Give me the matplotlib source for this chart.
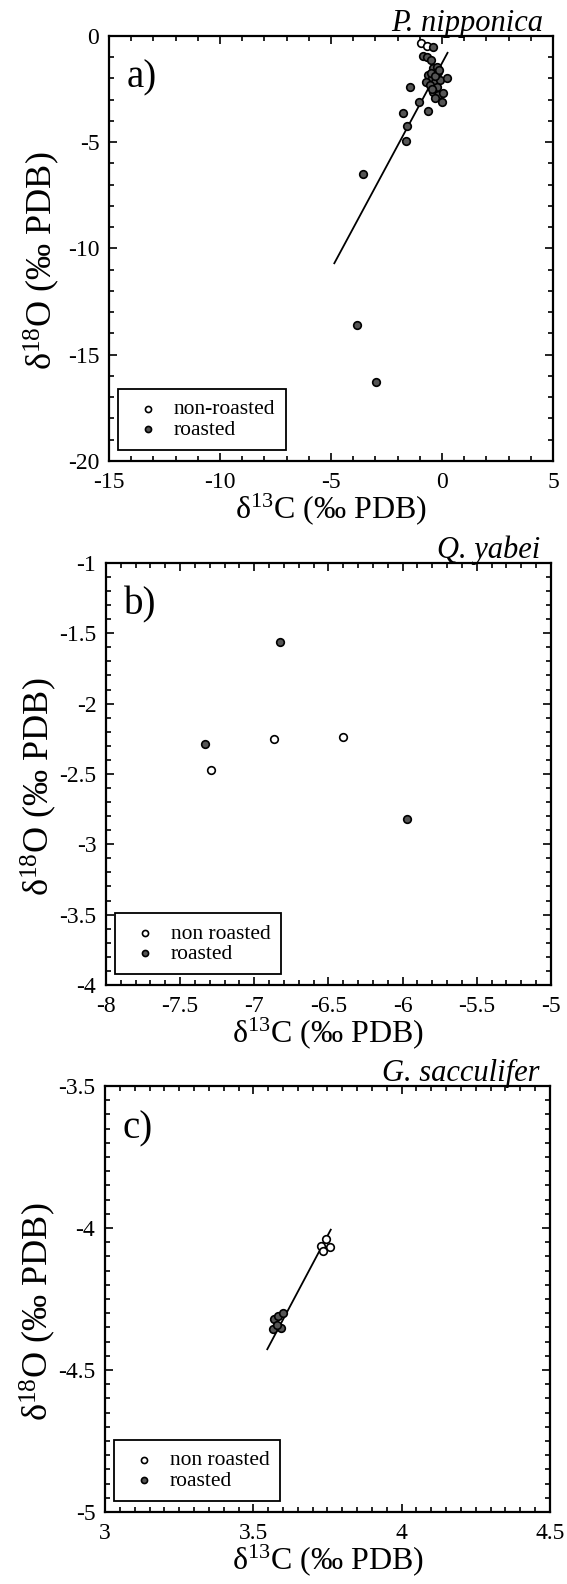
import matplotlib
matplotlib.use('Agg')
import matplotlib.pyplot as plt
from matplotlib.ticker import MultipleLocator, FuncFormatter

plt.rcParams['font.family'] = ['Liberation Serif', 'DejaVu Serif']
plt.rcParams['mathtext.fontset'] = 'custom'
plt.rcParams['mathtext.rm'] = 'Liberation Serif'
plt.rcParams['mathtext.it'] = 'Liberation Serif:italic'
plt.rcParams['axes.unicode_minus'] = False

# a) P. nipponica
a_open_x = [-0.95, -0.68]
a_open_y = [-0.35, -0.50]
a_roast_x = [-0.41, -0.84, -0.66, -0.51, -0.39, -0.24, -0.17, -0.62, -0.46, -0.72, -0.32,
             -0.09, -0.54, -0.24, -0.39, -0.17, -0.32, 0.21, 0.06, 0.01, -1.44, -1.02,
             -0.62, -1.77, -1.59, -1.62, -3.54, -3.82, -2.97, -0.50, -0.30, -0.44, -0.12]
a_roast_y = [-0.55, -0.95, -1.01, -1.14, -1.53, -1.45, -1.69, -1.84, -2.00, -2.16, -2.16,
             -2.08, -2.32, -2.39, -2.63, -2.79, -2.94, -2.00, -2.71, -3.10, -2.39, -3.10,
             -3.52, -3.62, -4.24, -4.95, -6.52, -13.6, -16.3, -1.75, -1.90, -2.50, -1.60]
a_fit_x = [-4.85, 0.25]
a_fit_y = [-10.7, -0.8]

# b) Q. yabei
b_open_x = [-7.29, -6.87, -6.40]
b_open_y = [-2.47, -2.25, -2.24]
b_roast_x = [-7.33, -6.83, -5.97]
b_roast_y = [-2.29, -1.56, -2.82]

# c) G. sacculifer
c_open_x = [3.744, 3.728, 3.758, 3.736]
c_open_y = [-4.040, -4.063, -4.066, -4.081]
c_roast_x = [3.571, 3.584, 3.601, 3.566, 3.592, 3.580]
c_roast_y = [-4.320, -4.310, -4.300, -4.355, -4.353, -4.340]
c_fit_x = [3.547, 3.761]
c_fit_y = [-4.427, -4.006]

xlab = 'δ$^{13}$C (‰ PDB)'
ylab = 'δ$^{18}$O (‰ PDB)'


def panel(ax, ox, oy, rx, ry, names, title, tag, xlim, ylim, xt, yt, fit=None):
    if fit is not None:
        ax.plot(fit[0], fit[1], color='black', lw=1.3, zorder=2)
    h1 = ax.scatter(ox, oy, s=30, facecolor='white', edgecolor='black', lw=1.2, zorder=3)
    h2 = ax.scatter(rx, ry, s=30, facecolor='#555555', edgecolor='black', lw=1.2, zorder=3)
    ax.set_xlim(xlim)
    ax.set_ylim(ylim)
    ax.xaxis.set_major_locator(MultipleLocator(xt[0]))
    ax.xaxis.set_minor_locator(MultipleLocator(xt[1]))
    ax.yaxis.set_major_locator(MultipleLocator(yt[0]))
    ax.yaxis.set_minor_locator(MultipleLocator(yt[1]))
    fmt = FuncFormatter(lambda v, p: '%g' % round(v, 3))
    ax.xaxis.set_major_formatter(fmt)
    ax.yaxis.set_major_formatter(fmt)
    ax.tick_params(which='both', direction='in', top=True, right=True, width=1.2)
    ax.tick_params(which='major', length=6)
    ax.tick_params(which='minor', length=3.5)
    ax.tick_params(axis='x', labelsize=17, pad=8)
    ax.tick_params(axis='y', labelsize=17, pad=7)
    for s in ax.spines.values():
        s.set_linewidth(1.6)
    ax.set_xlabel(xlab, fontsize=23)
    ax.set_ylabel(ylab, fontsize=26)
    ax.xaxis.set_label_coords(0.5, -0.072)
    ax.yaxis.set_label_coords(-0.105, 0.47)
    ax.text(0.977, 1.012, title, transform=ax.transAxes, ha='right', va='baseline',
            fontsize=22, style='italic')
    ax.text(0.04, 0.90, tag, transform=ax.transAxes, ha='left', va='center', fontsize=28)
    leg = ax.legend([h1, h2], names, loc='lower left', bbox_to_anchor=(0.02, 0.025),
                    borderaxespad=0, fontsize=15.5, frameon=True, fancybox=False,
                    edgecolor='black', framealpha=1, handlelength=1.8, handletextpad=0.3,
                    borderpad=0.5, labelspacing=0.0, markerscale=0.8)
    leg.get_frame().set_linewidth(1.3)


fig = plt.figure(figsize=(5.67, 15.84), dpi=100)
ax1 = fig.add_axes([0.1922, 0.7090, 0.7831, 0.2684])
ax2 = fig.add_axes([0.1869, 0.3782, 0.7848, 0.2664])
ax3 = fig.add_axes([0.1852, 0.0455, 0.7848, 0.2689])

panel(ax1, a_open_x, a_open_y, a_roast_x, a_roast_y, ['non-roasted', 'roasted'],
      'P. nipponica', 'a)', (-15, 5), (-20, 0), (5, 1), (5, 1), fit=(a_fit_x, a_fit_y))
panel(ax2, b_open_x, b_open_y, b_roast_x, b_roast_y, ['non roasted', 'roasted'],
      'Q. yabei', 'b)', (-8, -5), (-4, -1), (0.5, 0.1), (0.5, 0.1))
panel(ax3, c_open_x, c_open_y, c_roast_x, c_roast_y, ['non roasted', 'roasted'],
      'G. sacculifer', 'c)', (3, 4.5), (-5, -3.5), (0.5, 0.05), (0.5, 0.05),
      fit=(c_fit_x, c_fit_y))

fig.savefig('out.png', dpi=100)
